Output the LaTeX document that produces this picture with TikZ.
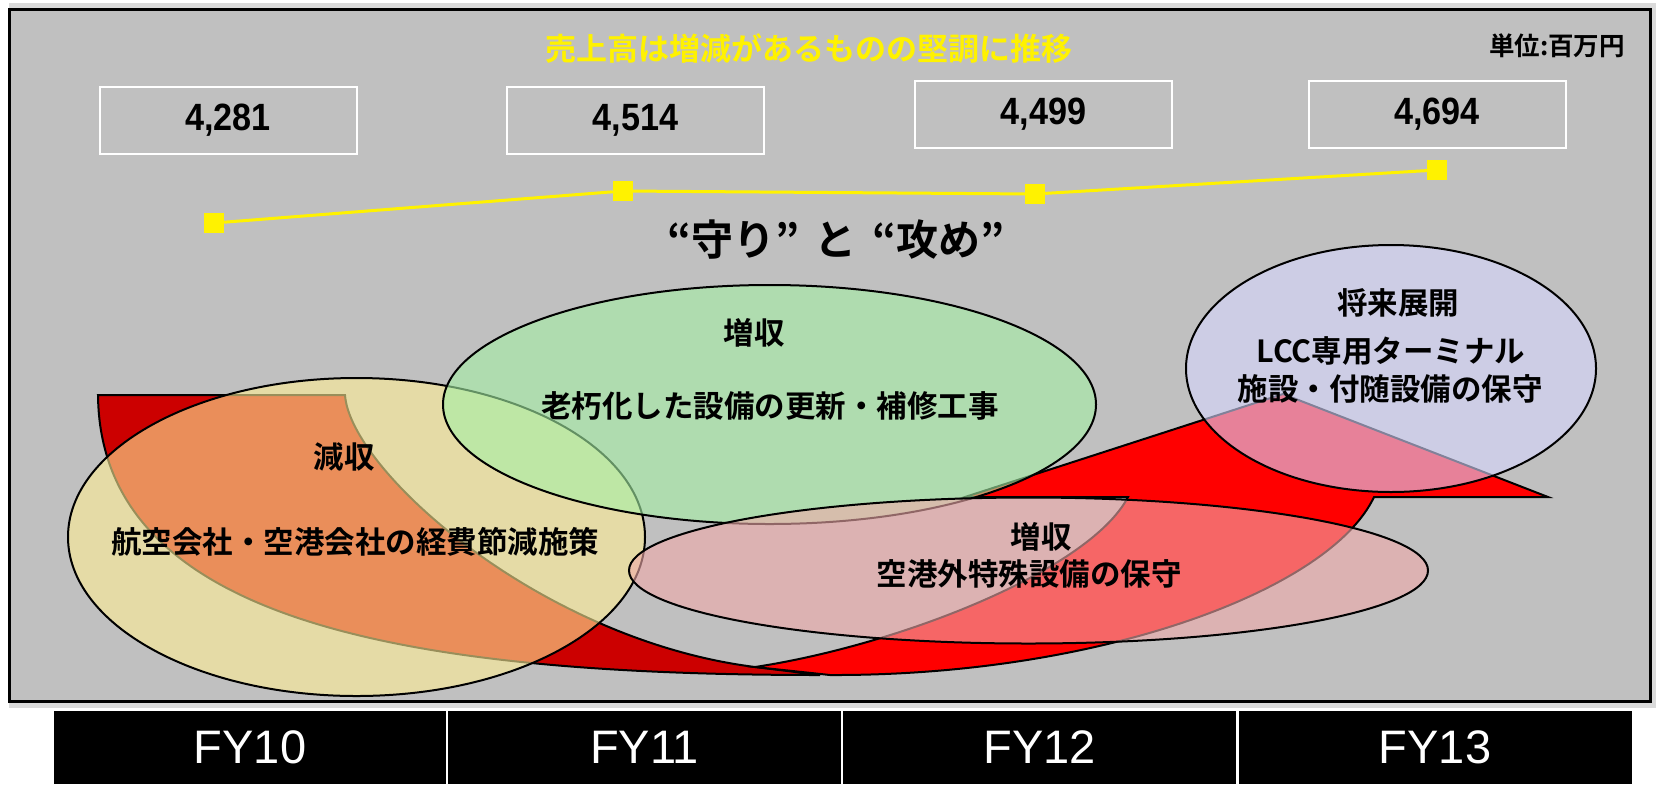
\documentclass[tikz,border=0pt]{standalone}
\usepackage{fontspec}
\setmainfont{Liberation Sans}
\newfontfamily\jp{Noto Sans CJK JP}[BoldFont={Noto Sans CJK JP Bold}]
\newfontfamily\numfont{Liberation Sans}[FakeStretch=0.9]
\usepackage{tikz}
\usetikzlibrary{shapes.geometric}
\definecolor{panel}{RGB}{192,192,192}
\definecolor{rim}{RGB}{218,218,218}
\definecolor{backred}{RGB}{204,0,0}
\definecolor{frontred}{RGB}{255,0,0}
\definecolor{cutfill}{RGB}{255,238,150}
\definecolor{oldfill}{RGB}{165,240,165}
\definecolor{outfill}{RGB}{240,170,170}
\definecolor{lccfill}{RGB}{215,215,255}
\newcommand{\ringop}{0.6}
\newcommand{\edge}{2pt}
\newcommand{\jptext}{\jp\bfseries\fontsize{30.5}{36}\selectfont}

\begin{document}
\begin{tikzpicture}[x=1pt,y=-1pt,
  valbox/.style={draw=white,line width=\edge,minimum width=257pt,minimum height=67pt,inner sep=0pt,font=\numfont\bfseries\fontsize{38}{40}\selectfont},
  sqmark/.style={fill=yellow,minimum size=20pt,inner sep=0pt},
  ring/.style={ellipse,draw=black,line width=\edge,fill opacity=\ringop,inner sep=0pt},
  fycell/.style={fill=black,draw=white,line width=\edge,minimum width=395pt,minimum height=75pt,text=white,font=\fontsize{47}{50}\selectfont},
  jpt/.style={font=\jptext,inner sep=0pt}]
\useasboundingbox (0,0) rectangle (1656,785);
\fill[rim] (9,3) rectangle (1656,708);
\draw[fill=panel,line width=3pt] (9.5,9.5) rectangle (1650.5,701.5);
%title
\node[jpt,text=yellow,font=\jp\bfseries\fontsize{31}{36}\selectfont] (title) at (809,49) {売上高は増減があるものの堅調に推移};
\node[jpt,font=\jp\bfseries\fontsize{25.5}{30}\selectfont] (unit) at (1557,46) {単位:百万円};
%values
\node[valbox] (v10) at (228,120.5) {4,281};
\node[valbox] (v11) at (635.5,120.5) {4,514};
\node[valbox] (v12) at (1043.5,114.5) {4,499};
\node[valbox] (v13) at (1437,114.5) {4,694};
\node[sqmark] (m10) at (214,223) {};
\node[sqmark] (m11) at (623,191) {};
\node[sqmark] (m12) at (1035,194) {};
\node[sqmark] (m13) at (1437,170) {};
\draw[yellow,line width=3pt] (m10) -- (m11) -- (m12) -- (m13);
\node[jpt,font=\jp\bfseries\fontsize{42}{46}\selectfont] (motto) at (836,240) {“守り”\hspace{6pt} と\hspace{6pt} “攻め”};
%arrow
\filldraw[fill=backred,line width=\edge] (98,395) -- (345,395) .. controls (350,470) and (540,640) .. (755,667)
  -- (820,675) .. controls (400,675) and (100,620) .. (98,395) -- cycle;
\filldraw[fill=frontred,line width=\edge] (755,667) .. controls (900,645) and (1090,570) .. (1128,497)
  -- (965,497) -- (1283,394) -- (1548,497) -- (1374,497) .. controls (1330,590) and (1100,676) .. (830,675) -- cycle;
%rings
\node[ring,fill=cutfill,minimum width=577pt,minimum height=318pt] (cut) at (356.5,537) {};
\node[ring,fill=oldfill,minimum width=653pt,minimum height=239pt] (old) at (769.5,404.5) {};
\node[ring,fill=outfill,minimum width=799pt,minimum height=146pt] (out) at (1028.5,570.5) {};
\node[ring,fill=lccfill,minimum width=410pt,minimum height=247pt] (lcc) at (1391,368.5) {};
\node[jpt] (cut1) at (344,457) {減収};
\node[jpt] (cut2) at (355,542) {航空会社・空港会社の経費節減施策};
\node[jpt] (old1) at (754,333) {増収};
\node[jpt] (old2) at (770,406) {老朽化した設備の更新・補修工事};
\node[jpt] (out1) at (1041,537) {増収};
\node[jpt] (out2) at (1029,574) {空港外特殊設備の保守};
\node[jpt] (lcc1) at (1398,303) {将来展開};
\node[jpt] (lcc2) at (1391,351) {LCC専用ターミナル};
\node[jpt] (lcc3) at (1390,389) {施設・付随設備の保守};
%years
\node[fycell] (fy10) at (250,747.5) {FY10};
\node[fycell] (fy11) at (644.5,747.5) {FY11};
\node[fycell] (fy12) at (1039.5,747.5) {FY12};
\node[fycell] (fy13) at (1435,747.5) {FY13};
\end{tikzpicture}
\end{document}
